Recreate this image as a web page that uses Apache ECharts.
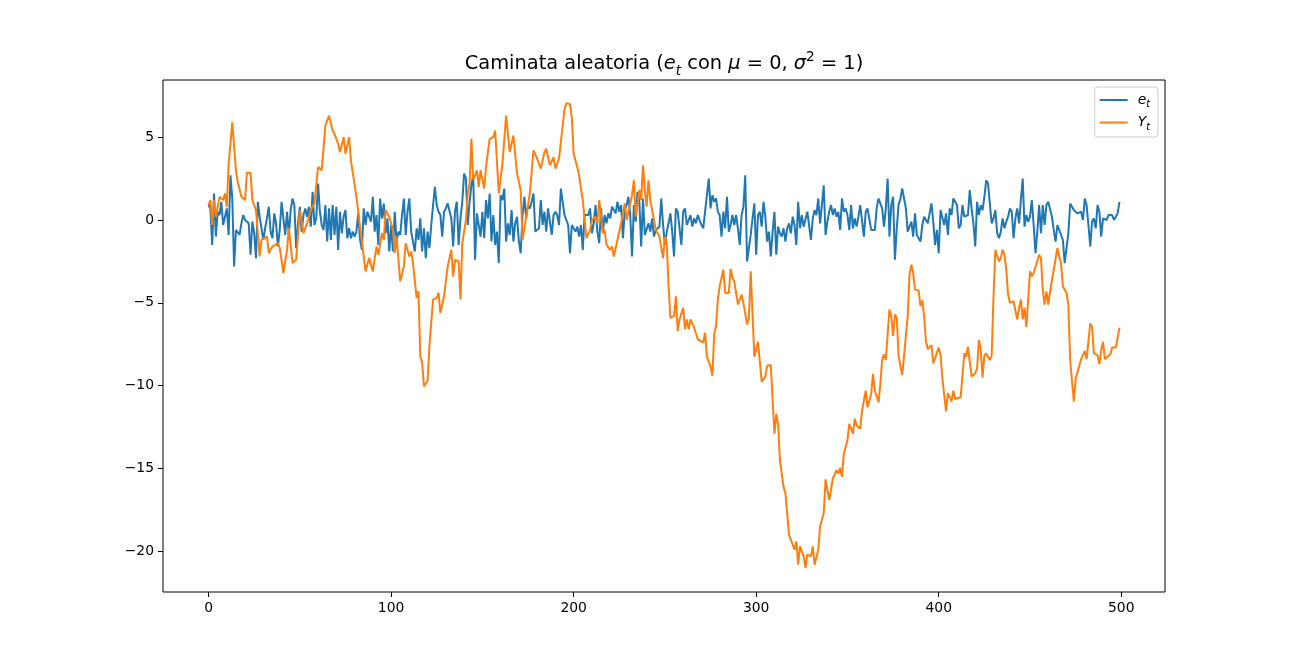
<!DOCTYPE html>
<html>
<head>
<meta charset="utf-8">
<script src="https://cdn.jsdelivr.net/npm/echarts@6/dist/echarts.min.js"></script>
<style>
  html, body { margin: 0; padding: 0; background: #fff; }
  #chart { width: 1294px; height: 665px; }
</style>
</head>
<body>
<div id="chart"></div>
<script>
// e_t: white noise, one value per step t = 0..499
const noiseE = [
  0.9, 0.7, -1.5, 1.6, -1.0, 0.5, 0.3, 1.1, -0.3, -0.4, 0.7,
  -0.9, 2.7, 1.3, -2.8, -0.6, -0.7, -0.9, -0.2, 0.3, 0.0,
  0.1, -0.2, -2.1, -0.1, -0.8, -2.3, 1.1, 0.2, 0.3, -1.2, -0.5,
  0.1, 0.8, -0.7, -1.1, 0.4, -0.2, -1.6, -0.6, 1.1, 1.2,
  -0.9, 0.5, -0.9, 0.6, 1.3, 0.9, -1.7, -0.2, 0.8, -0.7, 0.3,
  0.7, 0.2, 0.8, -0.4, 1.7, -0.3, 0.1, 2.2, 0.5, -0.3, -0.6,
  0.9, -1.3, 0.7, -1.2, 0.9, -0.9, 0.8, -1.8, 0.5, -0.8, 0.2,
  0.6, -1.1, -0.5, -1.1, -0.7, -1.0, -0.7, 0.4, -1.2, -1.8,
  0.7, -0.3, 0.5, 0.2, -0.1, 1.4, -0.7, 0.3, -1.5, 1.3,
  0.1, 1.0, -0.8, 0.1, -1.9, -0.3, -1.9, 0.5, -1.3, -0.7,
  -0.9, 0.3, 1.3, -0.9, 0.5, 1.3, -0.7, -0.6, -1.9, -0.5,
  -1.2, 0.1, -1.9, -0.5, -2.3, -0.7, -1.7, -0.3, 0.9, 2.0,
  0.9, 0.5, 0.3, -1.0, 0.5, 0.7, 1.0, 1.0, 0.1,
  -1.6, 0.5, 1.1, -1.5, 0.1, 1.1, 2.8, 2.5, -0.3, 1.1,
  2.1, 2.7, -2.4, 0.4, 0.5, -1.0, 0.5, -1.1, 1.2,
  0.1, 1.6, -1.3, 0.3, -1.5, -0.7, -2.6, 1.5, 1.2,
  1.9, -1.3, -0.2, -0.9, 0.6, -1.3, -0.2, 0.2, -1.3, -2.0,
  // t = 172 ..
  0.3, 1.4, 0.1, 0.9, 0.7, 1.1, 1.6, -0.7, -0.8,
  -0.5, 1.2, -0.3, 0.5, -0.7, 0.7, -0.1, -0.9, 0.3,
  0.5, 0.3, -0.3, 1.9, 1.1, 0.3, 0.2, -0.3, -2.0,
  -0.3, -0.3, -0.7, -0.4, -1.0, -0.3, -1.8, 0.3, 0.4,
  0.3, 0.7, -0.8, -0.2, 0.9, -0.7, -1.4, 0.7, -0.7,
  0.3, -0.2, 0.4, 0.1, 0.8, 0.7, 0.4, 1.1, 0.5,
  0.9, -1.1, 0.6, 0.9, 1.4, 0.3, -2.2, 0.9, -0.1,
  1.7, 1.1, -1.6, 1.3, -0.9, -0.9, -0.2, -0.7, 0.1,
  -1.0, -0.6, -0.7, -0.4, 1.3, -0.3, -1.5, -0.7, -0.2,
  0.4, -0.7, -2.2, 0.7, 0.5, 0.6, -1.5, 0.5, 0.7,
  -0.3, -0.4, 0.3, -0.4, 0.1, -0.2, 0.3, 0.3, -0.3,
  -0.5, -0.4, 1.5, 2.5, 0.7, 1.5, 1.1, 1.3, 0.5,
  0.3, -1.0, 0.5, -0.5, 1.4, -0.7, -0.3, 0.3, -0.3,
  0.3, -0.5, -1.5, 0.3, 0.8, 2.7, -2.5, -2.6, -0.9,
  0.1, 1.0, -2.1, 0.3, 0.5, -0.4, 1.1, 0.2, -1.3,
  -0.7, -2.2, -0.7, 0.5, -2.1, -0.4, -0.8, -1.0, -0.5, -1.3,
  -0.5, -0.2, -0.8, 0.2, -0.3, -1.5, 1.1, -0.5, 0.3,
  -0.4, -0.3, 0.5, 0.4, -1.2, 0.1, 0.6, 0.3, 1.3, -0.2,
  0.9, 2.1, -0.9, -0.1, 0.5, 0.9, 0.3, 0.7, 0.2, 0.5,
  -0.6,
  // t = 347 ..
  1.3, 0.5, 0.7, 0.3, -0.6, 0.9, -0.5, 0.1, -0.4,
  0.2, 0.9, 1.0, -1.0, 0.5, 0.7, 0.8, -0.6, -0.6,
  -0.6, 0.7, 1.3, 1.4, 0.7, -0.4, 0.7, 2.5, -1.0,
  0.9, 1.4, -2.4, -0.5, 0.9, 1.3, 1.9, 2.0, 0.7,
  -0.7, -0.8, -0.1, -1.0, 0.4, -0.9, -1.1, -1.3, -0.3,
  0.2, 0.3, -0.2, -0.1, 1.0, -0.1, -1.5, -0.6,
  -2.0, 0.6, 0.6, -0.3, 0.4, -0.9, 0.7, 0.3, 1.3,
  1.4, 0.9, -0.5, -0.3, 0.9, 0.2, 0.1, 0.3, 1.8,
  0.7, -0.2, -1.6, 1.1, 0.3, 0.9, 0.6, 1.4, 2.4,
  2.2, 2.3, -0.2, 0.1, 0.6, -0.8, -1.1, -0.7, 0.1,
  -0.5, -0.1, 0.2, 0.7, 0.5, -1.1, 0.1, 0.7, -0.2,
  1.2, 2.5, -0.4, 0.3, -0.1, 0.2, 1.2, -0.3, -2.0, -0.7,
  0.9, -0.8, 0.9, -0.3, 0.9, 1.1, 1.2, 0.2, -0.6,
  -1.3, -0.3, -0.6, -0.5, -1.2, -2.6, -1.7, -0.8, 1.0, 0.8,
  0.6, 0.5, 0.4, 0.3, 0.5, 0.0, 1.3, 0.9, -0.3, -1.6,
  -0.1, 0.1, -0.5, 0.9, 0.5, -1.0, 0.1, 0.2, 0.0, 0.3,
  0.2, 0.3, 0.0, 0.1, 0.4, 1.1
];

// Y_t: random walk, [t, value] pairs
const walkY = [
  [0,0.9],[1,1.2],[2,-0.3],[3,1.2],[4,0.2],[6,1.4],[8,1.2],[9,1.6],[10,0.8],[11,3.4],
  [12,4.6],[13,5.9],[15,3.0],[16,2.3],[18,1.4],[20,1.2],[21,2.85],[23,2.85],[24,1.2],[26,0.6],
  [28,-2.2],[29,-1.2],[30,-1.1],[32,-1.0],[33,-2.0],[35,-1.6],[38,-1.4],[39,-1.7],[41,-3.2],[43,-1.8],
  [44,-0.5],[46,-2.6],[48,-2.4],[50,0.6],[52,-0.8],[54,-0.2],[56,0.6],[58,1.0],[60,3.2],[62,3.0],
  [64,5.7],[66,6.3],[68,5.4],[69,5.2],[71,4.6],[72,4.1],[74,5.0],[75,4.0],[77,5.0],[78,3.6],
  [81,1.4],[83,-0.4],[85,-2.2],[86,-3.1],[88,-2.3],[90,-3.1],[92,-1.6],[93,-2.1],[95,-0.8],[96,-1.2],
  [97,0.6],[99,0.2],[101,-0.6],[102,-2.0],[103,-1.0],[105,-3.7],[107,-2.8],[108,-1.4],[110,-2.2],[111,-1.9],
  [112,-2.6],[114,-4.7],[115,-4.3],[116,-8.25],[117,-8.6],[118,-10.05],[120,-9.7],[121,-7.6],[123,-4.8],[125,-4.7],
  [126,-4.4],[127,-5.6],[129,-4.6],[131,-2.8],[133,-1.8],[134,-3.4],[135,-2.4],[137,-2.5],[138,-4.8],[139,-1.4],
  [141,0.0],[142,1.6],[143,2.2],[144,4.9],[145,2.4],[147,3.0],[148,2.0],[149,3.0],[151,1.9],[152,3.2],
  [154,4.9],[156,5.0],[157,5.4],[159,1.6],[161,3.4],[163,6.3],[165,4.1],[167,5.1],[169,2.8],[171,1.8],
  [172,-1.2],[174,0.2],[176,1.6],[178,4.2],[180,3.7],[181,3.8],[182,3.1],[184,4.1],[185,4.3],[187,3.3],
  [188,3.2],[189,3.8],[190,3.1],[192,3.7],[193,3.8],[195,6.7],[196,7.05],[197,6.95],[198,7.0],[199,6.2],
  [200,4.0],[202,3.2],[203,2.7],[204,1.9],[205,1.2],[207,-1.1],[209,-0.6],[210,0.0],[212,0.2],[213,-0.2],
  [214,1.2],[216,-0.8],[217,-0.6],[218,-1.5],[220,-1.8],[221,-1.6],[222,-2.2],[223,-1.7],[224,-1.6],[226,-0.2],
  [228,1.0],[229,0.0],[230,0.0],[232,1.5],[233,2.4],[234,0.2],[236,1.8],[237,1.2],[238,3.3],[239,1.8],
  [240,0.8],[241,2.4],[242,1.2],[244,0.0],[245,-0.6],[246,-0.5],[247,-1.0],[249,-2.3],[250,-1.0],[251,-1.4],
  [252,-4.0],[253,-5.9],[255,-5.8],[256,-4.6],[257,-6.7],[258,-6.0],[260,-5.3],[261,-6.6],[262,-6.0],[263,-6.6],
  [264,-6.0],[266,-6.5],[268,-7.2],[269,-7.1],[271,-7.4],[272,-6.8],[273,-8.25],[275,-8.85],[276,-9.4],[277,-6.9],
  [278,-6.4],[279,-4.8],[280,-4.0],[281,-4.0],[282,-3.0],[283,-4.4],[285,-4.4],[286,-2.95],[287,-3.5],[288,-3.7],
  [290,-5.1],[292,-4.5],[293,-5.0],[295,-6.3],[296,-5.9],[297,-3.1],[299,-8.25],[300,-8.35],[301,-7.35],[303,-9.75],
  [304,-9.85],[305,-9.45],[306,-8.8],[308,-8.75],[310,-12.9],[311,-11.7],[312,-12.3],[313,-14.5],[315,-16.1],[316,-16.5],
  [318,-19.0],[319,-18.9],[321,-19.9],[322,-19.4],[323,-20.8],[324,-19.7],[326,-20.3],[327,-21.0],[328,-20.2],[330,-20.3],
  [331,-19.7],[332,-20.8],[334,-19.9],[335,-18.5],[336,-18.45],[337,-17.7],[338,-15.65],[340,-16.9],[342,-15.6],[343,-15.6],
  [344,-15.1],[345,-15.3],[346,-14.95],[347,-15.5],[348,-14.1],[350,-13.3],[351,-12.3],[352,-12.3],[353,-12.9],[354,-12.0],
  [355,-12.4],[357,-12.6],[358,-11.5],[360,-10.3],[361,-11.3],[363,-10.5],[364,-9.3],[365,-10.3],[367,-11.0],[368,-9.9],
  [369,-8.45],[370,-8.1],[371,-8.45],[373,-5.4],[374,-5.8],[375,-7.0],[376,-5.7],[377,-5.9],[378,-8.2],[379,-8.8],
  [380,-9.35],[381,-8.2],[383,-5.8],[384,-3.3],[385,-2.7],[386,-3.2],[387,-4.2],[389,-4.25],[390,-5.2],[391,-4.85],
  [392,-5.8],[393,-7.35],[394,-7.8],[396,-7.55],[397,-8.65],[398,-8.75],[400,-7.7],[401,-8.15],[402,-9.55],[403,-9.6],
  [404,-11.55],[405,-10.45],[407,-10.95],[408,-10.3],[409,-10.8],[410,-10.9],[412,-10.7],[414,-8.05],[415,-8.25],[416,-7.65],
  [418,-9.45],[420,-9.25],[421,-8.95],[422,-7.25],[423,-7.75],[424,-9.5],[425,-8.2],[426,-8.05],[428,-8.45],[429,-8.2],
  [430,-4.6],[431,-1.8],[433,-2.5],[434,-2.3],[435,-1.8],[436,-2.1],[437,-3.0],[438,-4.5],[439,-5.0],[441,-4.9],
  [443,-6.0],[444,-5.3],[445,-4.8],[446,-6.0],[447,-5.3],[448,-6.45],[450,-3.1],[451,-3.4],[452,-3.2],[453,-3.3],
  [455,-2.1],[456,-2.3],[457,-4.2],[458,-5.1],[459,-4.3],[460,-5.1],[461,-4.3],[462,-4.2],[463,-3.0],[465,-1.7],
  [466,-2.2],[467,-2.6],[468,-4.0],[470,-4.4],[471,-5.1],[472,-8.45],[474,-10.95],[475,-9.6],[477,-8.8],[478,-8.4],
  [480,-7.9],[481,-8.4],[483,-6.25],[484,-6.45],[485,-8.05],[487,-8.15],[488,-8.7],[489,-7.85],[490,-7.35],[491,-8.4],
  [492,-8.3],[494,-8.1],[495,-7.7],[497,-7.7],[498,-7.6],[499,-6.5]
];

const xTicks = [0, 100, 200, 300, 400, 500];
const yTicks = [-20, -15, -10, -5, 0, 5];

const FONT = 'DejaVu Sans';
const minus = v => String(v).replace('-', '\u2212');

const chart = echarts.init(document.getElementById('chart'), null, { renderer: 'canvas' });

chart.setOption({
  animation: false,
  backgroundColor: '#fff',
  textStyle: { fontFamily: FONT, color: '#000' },
  title: {
    text: '{n|Caminata aleatoria (}{i|e}{s|t}{n| con }{i|μ}{n| = 0, }{i|σ}{p|2}{n| = 1)}',
    left: 664,
    top: 50,
    textAlign: 'center',
    padding: 0,
    textStyle: {
      fontWeight: 'normal',
      rich: {
        n: { fontFamily: FONT, fontSize: 19.4, fontWeight: 'normal', color: '#000', lineHeight: 28 },
        i: { fontFamily: FONT, fontSize: 19.4, fontWeight: 'normal', fontStyle: 'italic', color: '#000', lineHeight: 28 },
        s: { fontFamily: FONT, fontSize: 13.6, fontWeight: 'normal', fontStyle: 'italic', color: '#000', lineHeight: 11, verticalAlign: 'bottom' },
        p: { fontFamily: FONT, fontSize: 13.6, fontWeight: 'normal', color: '#000', lineHeight: 14, verticalAlign: 'top' }
      }
    }
  },
  legend: {
    orient: 'vertical',
    right: 136,
    top: 87,
    padding: [6, 8, 5, 5],
    itemGap: 6,
    itemWidth: 28,
    itemHeight: 2,
    icon: 'rect',
    backgroundColor: 'rgba(255,255,255,0.8)',
    borderColor: '#cccccc',
    borderWidth: 1,
    borderRadius: 3,
    data: ['e_t', 'Y_t'],
    formatter: name => name === 'e_t' ? '{i|e}{s|t}' : '{i|Y}{s|t}',
    textStyle: {
      padding: [0, 0, 0, 5],
      rich: {
        i: { fontFamily: FONT, fontSize: 13.9, fontStyle: 'italic', color: '#000', lineHeight: 19 },
        s: { fontFamily: FONT, fontSize: 9.7, fontStyle: 'italic', color: '#000', lineHeight: 8, verticalAlign: 'bottom' }
      }
    }
  },
  grid: {
    left: 163,
    right: 129,
    top: 80,
    bottom: 73,
    containLabel: false,
    show: true,
    borderColor: '#000',
    borderWidth: 1,
    backgroundColor: 'transparent'
  },
  xAxis: {
    type: 'value',
    min: -24.95,
    max: 523.95,
    splitLine: { show: false },
    axisLine: { show: false, onZero: false },
    axisTick: { show: true, length: 5, inside: false, customValues: xTicks, lineStyle: { color: '#000', width: 1 } },
    axisLabel: { customValues: xTicks, margin: 9, fontFamily: FONT, fontSize: 13.9, color: '#000', formatter: minus }
  },
  yAxis: {
    type: 'value',
    min: -22.45,
    max: 8.45,
    splitLine: { show: false },
    axisLine: { show: false, onZero: false },
    axisTick: { show: true, length: 5, inside: false, customValues: yTicks, lineStyle: { color: '#000', width: 1 } },
    axisLabel: { customValues: yTicks, margin: 9, fontFamily: FONT, fontSize: 13.9, color: '#000', formatter: minus }
  },
  series: [
    {
      name: 'e_t',
      type: 'line',
      data: noiseE.map((v, t) => [t, v]),
      showSymbol: false,
      symbol: 'none',
      lineStyle: { color: '#1f77b4', width: 2 },
      itemStyle: { color: '#1f77b4' },
      z: 2
    },
    {
      name: 'Y_t',
      type: 'line',
      data: walkY,
      showSymbol: false,
      symbol: 'none',
      lineStyle: { color: '#ff7f0e', width: 2 },
      itemStyle: { color: '#ff7f0e' },
      z: 3
    }
  ]
});
</script>
</body>
</html>
